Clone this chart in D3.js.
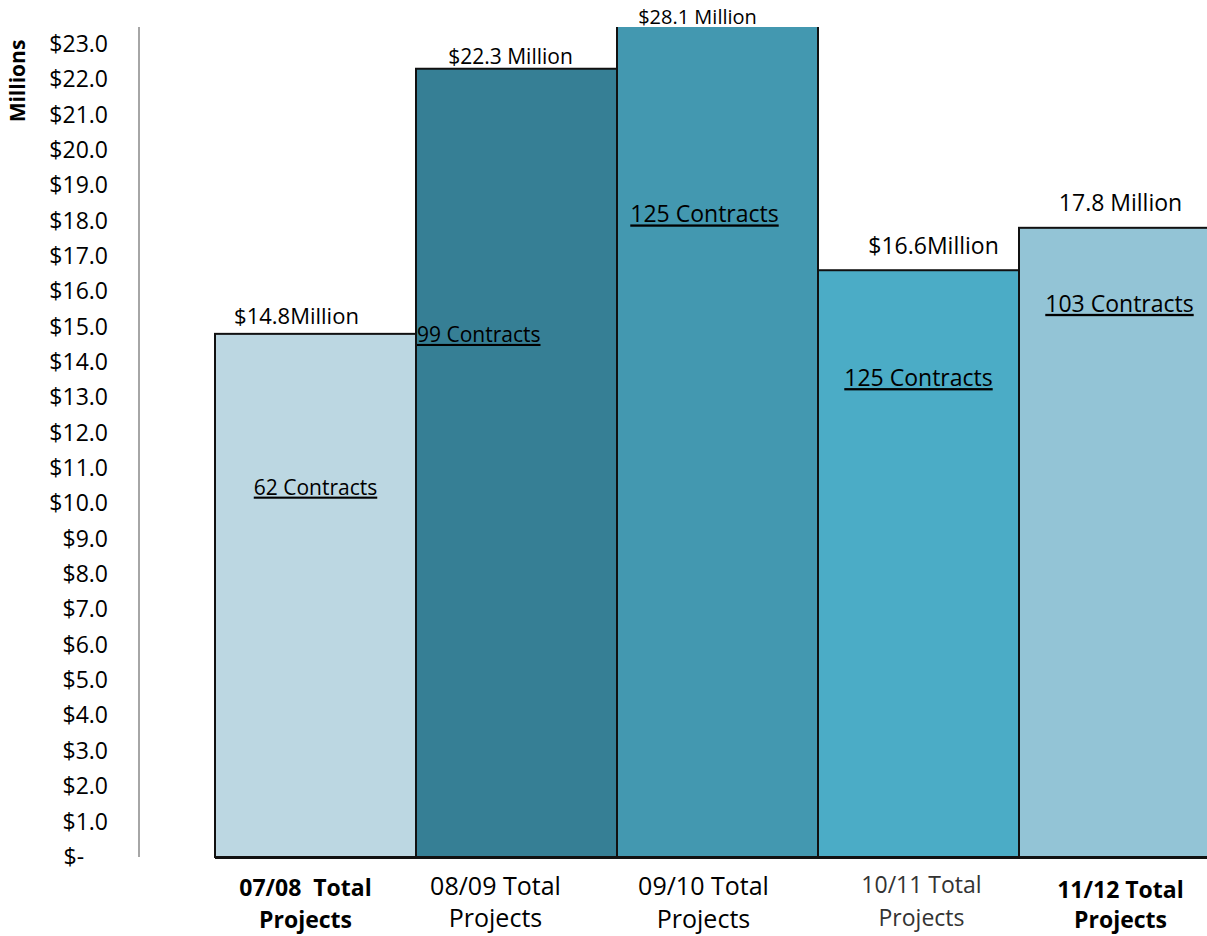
<!DOCTYPE html>
<html>
<head>
<meta charset="utf-8">
<script src="https://cdn.jsdelivr.net/npm/d3@7"></script>
<style>
  html, body { margin: 0; padding: 0; background: #fff; }
  svg { display: block; font-family: "Open Sans", "Noto Sans", sans-serif; }
  text { white-space: pre; }
</style>
</head>
<body>
<svg id="chart" width="1207" height="936"></svg>
<script>
// ---- data ----
const categories = ["07/08 Total Projects", "08/09 Total Projects", "09/10 Total Projects", "10/11 Total Projects", "11/12 Total Projects"];
const catLine1 = ["07/08  Total", "08/09 Total", "09/10 Total", "10/11 Total", "11/12 Total"];
const catLine2 = ["Projects", "Projects", "Projects", "Projects", "Projects"];
const values = [14.8, 22.3, 28.1, 16.6, 17.8];               // $ millions
const valueLabels = ["$14.8Million", "$22.3 Million", "$28.1 Million", "$16.6Million", "17.8 Million"];
const contracts = [62, 99, 125, 125, 103];
const yTicks = [0, 1, 2, 3, 4, 5, 6, 7, 8, 9, 10, 11, 12, 13, 14, 15, 16, 17, 18, 19, 20, 21, 22, 23];

// ---- styling / layout (not data) ----
const colors = ["#BCD7E2", "#367F95", "#4398B0", "#4BACC6", "#93C4D6"];
const boldCat = [true, false, false, false, true];
const catSize = [23, 25, 25, 23, 23];
const catY1 = [896, 895, 895, 893, 898];
const catY2 = [928, 927, 928, 926, 928];
const catDx = [-10, -21, -14, 3, 1];
const valueSize = [22, 21, 20, 23, 23];
const valueDx = [-19, -6, -20, 15, 1];
const valueDy = [-10, -5, -3, -16, -17];
const contractAt = [10.45, 14.77, 18.15, 13.52, 15.62];   // label anchor heights (in axis units)
const contractAnchor = ["middle", "start", "middle", "middle", "middle"];
const contractDx = [0, 0, -13, 0, 0];
const contractSize = [21, 21, 23, 23, 23];

const svg = d3.select("#chart");
const plotTop = 27, plotBottom = 857;

const x = d3.scaleBand().domain(categories).range([215, 1220]).padding(0);
const y = d3.scaleLinear().domain([0, 23]).range([plotBottom, 44]);

svg.append("defs").append("clipPath").attr("id", "plotclip")
  .append("rect").attr("x", 0).attr("y", plotTop).attr("width", 1300).attr("height", plotBottom - plotTop + 5);

// y axis (grey line, labels)
const yAxis = d3.axisLeft(y).tickValues(yTicks).tickSize(0).tickPadding(31)
  .tickFormat(d => d === 0 ? "$-    " : "$" + d.toFixed(1));
const gy = svg.append("g").attr("transform", "translate(139,0)").call(yAxis);
gy.select(".domain").remove();
gy.append("line").attr("x1", 0).attr("x2", 0).attr("y1", plotTop).attr("y2", plotBottom)
  .attr("stroke", "#a6a6a6").attr("stroke-width", 2);
gy.selectAll(".tick text").attr("fill", "#000").attr("font-size", 23).attr("font-family", "Open Sans, sans-serif");

svg.append("text")
  .attr("transform", "translate(25,81) rotate(-90)")
  .attr("text-anchor", "middle")
  .attr("font-weight", "bold").attr("font-size", 21)
  .text("Millions");

// bars
const bars = svg.append("g").attr("clip-path", "url(#plotclip)");
bars.selectAll("rect").data(values).join("rect")
  .attr("x", (d, i) => x(categories[i]))
  .attr("y", d => y(d))
  .attr("width", x.bandwidth())
  .attr("height", d => y(0) - y(d))
  .attr("fill", (d, i) => colors[i])
  .attr("stroke", "#111").attr("stroke-width", 2);

// baseline
svg.append("line").attr("x1", 215).attr("x2", 1207).attr("y1", y(0) + 1).attr("y2", y(0) + 1)
  .attr("stroke", "#111").attr("stroke-width", 2);

// value labels
svg.append("g").selectAll("text").data(values).join("text")
  .attr("x", (d, i) => x(categories[i]) + x.bandwidth() / 2 + valueDx[i])
  .attr("y", (d, i) => Math.max(y(d), plotTop) + valueDy[i])
  .attr("text-anchor", "middle").attr("font-size", (d, i) => valueSize[i]).attr("fill", "#000")
  .text((d, i) => valueLabels[i]);

// contract labels
svg.append("g").selectAll("text").data(contracts).join("text")
  .attr("x", (d, i) => (contractAnchor[i] === "start" ? x(categories[i]) + 1 : x(categories[i]) + x.bandwidth() / 2) + contractDx[i])
  .attr("y", (d, i) => y(contractAt[i]) + 7)
  .attr("text-anchor", (d, i) => contractAnchor[i])
  .attr("font-size", (d, i) => contractSize[i]).attr("fill", "#000")
  .attr("text-decoration", "underline")
  .text(d => d + " Contracts");

// category labels
const cat = svg.append("g").selectAll("text").data(categories).join("text")
  .attr("text-anchor", "middle")
  .attr("font-size", (d, i) => catSize[i])
  .attr("font-weight", (d, i) => boldCat[i] ? "bold" : "normal")
  .attr("fill", (d, i) => i === 3 ? "#333" : "#000");
cat.append("tspan")
  .attr("x", (d, i) => x(d) + x.bandwidth() / 2 + catDx[i])
  .attr("y", (d, i) => catY1[i])
  .text((d, i) => catLine1[i]);
cat.append("tspan")
  .attr("x", (d, i) => x(d) + x.bandwidth() / 2 + catDx[i])
  .attr("y", (d, i) => catY2[i])
  .text((d, i) => catLine2[i]);
</script>
</body>
</html>
